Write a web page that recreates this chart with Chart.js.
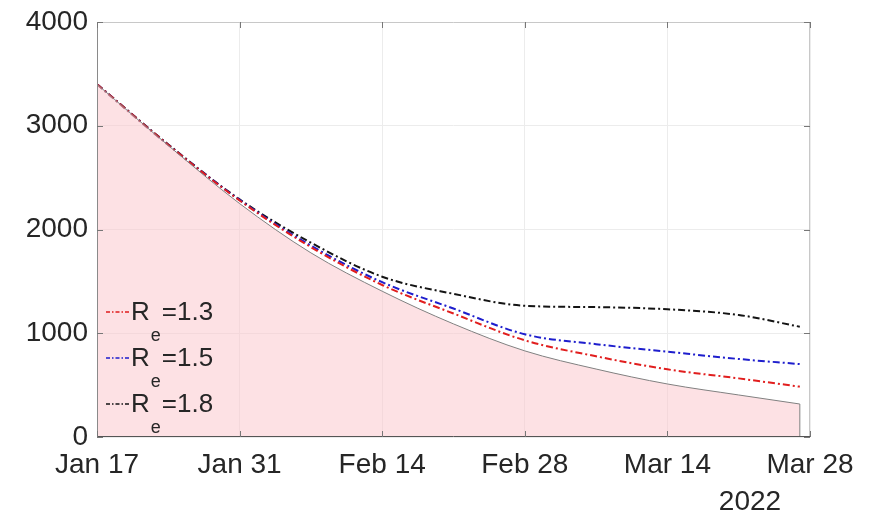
<!DOCTYPE html>
<html>
<head>
<meta charset="utf-8">
<script src="https://cdn.jsdelivr.net/npm/chart.js@4.4.1/dist/chart.umd.min.js"></script>
<style>
  html, body { margin: 0; padding: 0; background: #fff; }
  #wrap { width: 875px; height: 515px; }
</style>
</head>
<body>
<div id="wrap"><canvas id="myChart" width="875" height="515"></canvas></div>
<script>
// days since Jan 17 2022
let days = [0, 7, 14, 21, 28, 35, 42, 49, 56, 63, 69];
let baseline = [3400, 2810, 2250, 1775, 1405, 1090, 830, 655, 511, 405, 318];
let re13 = [3400, 2815, 2280, 1830, 1465, 1190, 932, 778, 652, 565, 485];
let re15 = [3400, 2815, 2285, 1845, 1492, 1238, 990, 895, 822, 752, 703];
let re18 = [3400, 2820, 2290, 1873, 1545, 1380, 1265, 1252, 1231, 1176, 1063];

let tickDays = [0, 14, 28, 42, 56, 70];
let tickLabels = ['Jan 17', 'Jan 31', 'Feb 14', 'Feb 28', 'Mar 14', 'Mar 28'];
let yTicks = [0, 1000, 2000, 3000, 4000];
let yearLabel = '2022';

let series = [
    { value: '1.3', data: re13, color: 'rgb(225, 30, 30)' },
    { value: '1.5', data: re15, color: 'rgb(30, 30, 205)' },
    { value: '1.8', data: re18, color: 'rgb(20, 20, 20)' }
];

function toPoints(arr) {
    return days.map(function(d, i) { return { x: d, y: arr[i] }; });
}

const FONT = '"Liberation Sans", Arial, sans-serif';
const TEXT = '#262626';
const DASH = [7, 3, 2, 3];

// axes box, inward ticks, end edge of the fill, legend and year label
const decor = {
    id: 'decor',
    afterDraw(chart) {
        const ctx = chart.ctx;
        const a = chart.chartArea;
        const xs = chart.scales.x;
        const ys = chart.scales.y;
        ctx.save();

        // vertical edge of the shaded area
        const last = days.length - 1;
        const ex = xs.getPixelForValue(days[last]);
        ctx.strokeStyle = '#808080';
        ctx.lineWidth = 1;
        ctx.beginPath();
        ctx.moveTo(ex, ys.getPixelForValue(baseline[last]));
        ctx.lineTo(ex, a.bottom);
        ctx.stroke();

        // box
        ctx.strokeStyle = '#c8c8c8';
        ctx.beginPath();
        ctx.moveTo(a.left, a.top + 0.5);
        ctx.lineTo(a.right, a.top + 0.5);
        ctx.moveTo(a.right - 0.5, a.top);
        ctx.lineTo(a.right - 0.5, a.bottom);
        ctx.stroke();
        ctx.strokeStyle = '#8a8a8a';
        ctx.beginPath();
        ctx.moveTo(a.left + 0.5, a.top);
        ctx.lineTo(a.left + 0.5, a.bottom);
        ctx.stroke();
        ctx.strokeStyle = '#555';
        ctx.beginPath();
        ctx.moveTo(a.left, a.bottom - 0.5);
        ctx.lineTo(a.right, a.bottom - 0.5);
        ctx.stroke();

        // inward ticks
        ctx.strokeStyle = '#777';
        ctx.beginPath();
        yTicks.forEach(function(v) {
            const y = Math.round(ys.getPixelForValue(v)) + 0.5;
            ctx.moveTo(a.left, y); ctx.lineTo(a.left + 6, y);
            ctx.moveTo(a.right, y); ctx.lineTo(a.right - 6, y);
        });
        tickDays.forEach(function(v) {
            const x = Math.round(xs.getPixelForValue(v)) + 0.5;
            ctx.moveTo(x, a.bottom); ctx.lineTo(x, a.bottom - 6);
            ctx.moveTo(x, a.top); ctx.lineTo(x, a.top + 6);
        });
        ctx.stroke();

        // legend
        series.forEach(function(s, i) {
            const base = a.top + 298 + i * 46;
            ctx.strokeStyle = s.color;
            ctx.lineWidth = 1.5;
            ctx.setLineDash([4, 2, 1.5, 2]);
            ctx.beginPath();
            ctx.moveTo(a.left + 9, base - 8);
            ctx.lineTo(a.left + 33, base - 8);
            ctx.stroke();
            ctx.setLineDash([]);

            ctx.fillStyle = TEXT;
            ctx.textBaseline = 'alphabetic';
            ctx.textAlign = 'left';
            let x = a.left + 34;
            ctx.font = '26px ' + FONT;
            ctx.fillText('R', x, base);
            x += ctx.measureText('R').width + 1;
            ctx.font = '18px ' + FONT;
            ctx.fillText('e', x, base + 21);
            x += ctx.measureText('e').width + 1;
            ctx.font = '26px ' + FONT;
            ctx.fillText('=' + s.value, x, base);
        });

        // year under the last date
        ctx.font = '28px ' + FONT;
        ctx.fillStyle = TEXT;
        ctx.textAlign = 'center';
        ctx.fillText(yearLabel, a.right - 60, 510);

        ctx.restore();
    }
};

let datasets = [{
    label: 'baseline',
    data: toPoints(baseline),
    borderColor: '#808080',
    borderWidth: 1,
    backgroundColor: 'rgba(252, 196, 202, 0.5)',
    fill: 'origin',
    pointRadius: 0,
    cubicInterpolationMode: 'monotone'
}];
series.forEach(function(s) {
    datasets.push({
        label: 'Re=' + s.value,
        data: toPoints(s.data),
        borderColor: s.color,
        borderWidth: 2,
        borderDash: DASH,
        fill: false,
        pointRadius: 0,
        cubicInterpolationMode: 'monotone'
    });
});

let ctx = document.getElementById('myChart').getContext('2d');
let myChart = new Chart(ctx, {
    type: 'line',
    data: { datasets: datasets },
    plugins: [decor],
    options: {
        responsive: false,
        animation: false,
        layout: { padding: { top: 22, right: 65, left: 0, bottom: 0 } },
        plugins: {
            legend: { display: false },
            tooltip: { enabled: false }
        },
        scales: {
            x: {
                type: 'linear',
                min: 0,
                max: 70,
                afterBuildTicks: function(scale) {
                    scale.ticks = tickDays.map(function(v) { return { value: v }; });
                },
                afterFit: function(scale) { scale.height = 78; },
                border: { display: false },
                grid: { color: '#ececec', drawTicks: false },
                ticks: {
                    padding: 11,
                    maxRotation: 0,
                    color: TEXT,
                    font: { family: FONT, size: 28 },
                    callback: function(v) { return tickLabels[tickDays.indexOf(v)]; }
                }
            },
            y: {
                min: 0,
                max: 4000,
                afterBuildTicks: function(scale) {
                    scale.ticks = yTicks.map(function(v) { return { value: v }; });
                },
                afterFit: function(scale) {
                    scale.width = 97;
                    scale.paddingTop = 0;
                    scale.paddingBottom = 0;
                },
                border: { display: false },
                grid: { color: '#ececec', drawTicks: false },
                ticks: {
                    padding: 9,
                    color: TEXT,
                    font: { family: FONT, size: 28 },
                    callback: function(v) { return String(v); }
                }
            }
        }
    }
});
</script>
</body>
</html>
